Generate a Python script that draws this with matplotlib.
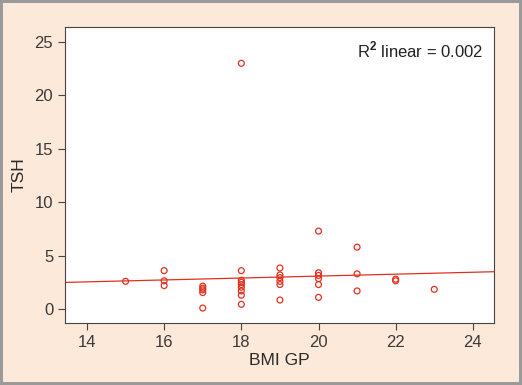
import numpy as np
import matplotlib
matplotlib.use('Agg')
import matplotlib.pyplot as plt

plt.rcParams['font.family'] = ['Liberation Sans', 'DejaVu Sans']
plt.rcParams['mathtext.fontset'] = 'custom'
plt.rcParams['mathtext.rm'] = 'Liberation Sans'
plt.rcParams['mathtext.bf'] = 'Liberation Sans:bold'

# BMI group and TSH values
bmi = [15,
       16, 16, 16,
       17, 17, 17, 17, 17,
       18, 18, 18, 18, 18, 18, 18, 18, 18,
       19, 19, 19, 19, 19, 19,
       20, 20, 20, 20, 20, 20,
       21, 21, 21,
       22, 22,
       23]
tsh = [2.6,
       3.6, 2.65, 2.2,
       2.15, 1.95, 1.8, 1.55, 0.1,
       23.0, 3.6, 2.7, 2.5, 2.3, 2.05, 1.7, 1.3, 0.45,
       3.85, 3.2, 2.95, 2.6, 2.3, 0.85,
       7.3, 3.4, 3.15, 2.85, 2.3, 1.1,
       5.8, 3.3, 1.7,
       2.8, 2.65,
       1.85]

# fit line as drawn in the original
fit_slope = 0.09
fit_intercept = 1.29

red = '#e0301e'
bg = '#fde9d9'

fig = plt.figure(figsize=(5.22, 3.85), dpi=100, facecolor=bg,
                 edgecolor='#9a9a9a', linewidth=3)
ax = fig.add_axes([0.1245, 0.161, 0.822, 0.769])

ax.scatter(bmi, tsh, s=18, facecolors='none', edgecolors=red, linewidths=0.9, zorder=3)

xs = np.array([13.43, 24.55])
ax.plot(xs, fit_intercept + fit_slope * xs, color=red, linewidth=0.9)

ax.set_xlim(13.43, 24.55)
ax.set_ylim(-1.3, 26.4)
ax.set_xticks([14, 16, 18, 20, 22, 24])
ax.set_yticks([0, 5, 10, 15, 20, 25])
ax.tick_params(labelsize=12, labelcolor='#3a3a3a', color='#444444', length=5)
for s in ax.spines.values():
    s.set_color('#444444')
ax.set_xlabel('BMI GP', fontsize=12.5, color='#2a2a2a', labelpad=2)
ax.set_ylabel('TSH', fontsize=12.5, color='#2a2a2a', labelpad=6)

ax.text(0.975, 0.955, r'R$^\mathbf{2}$ linear = 0.002', transform=ax.transAxes,
        ha='right', va='top', fontsize=12, color='#222222')

fig.savefig('out.png', dpi=100, facecolor=bg, edgecolor=fig.get_edgecolor())
